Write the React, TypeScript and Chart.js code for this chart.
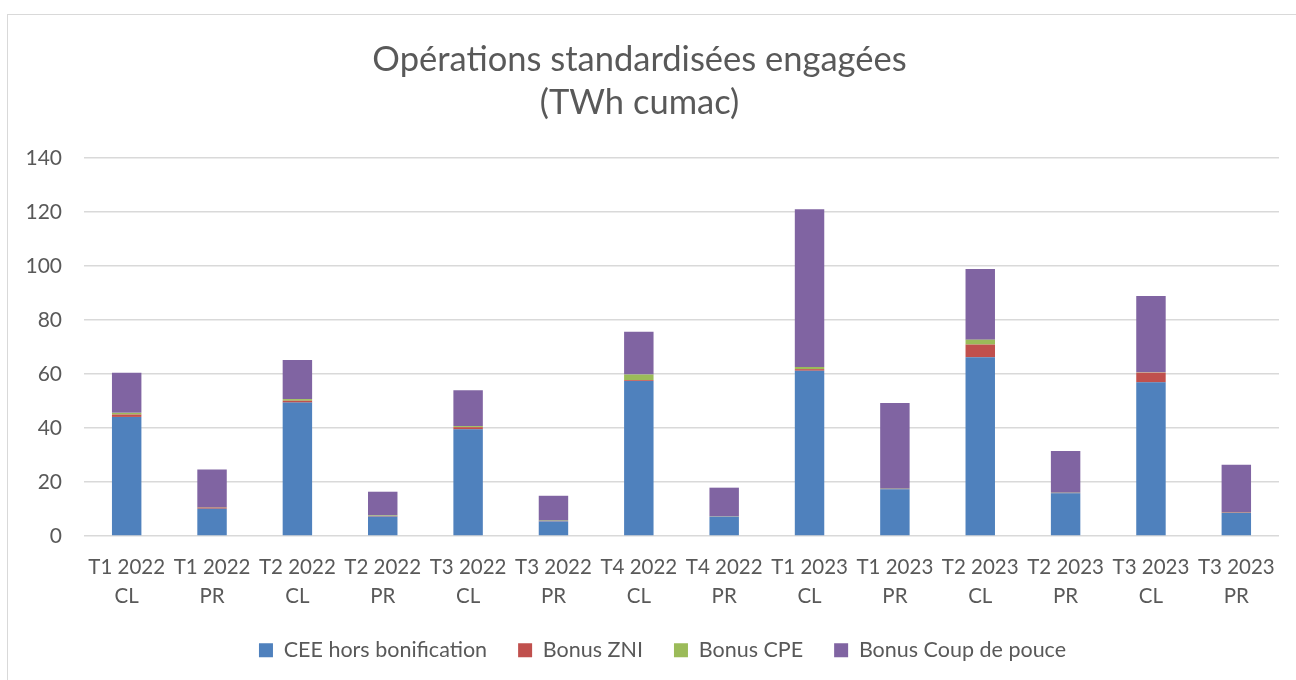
import React, { useEffect, useRef } from "react";
import { Chart, registerables } from "chart.js";

Chart.register(...registerables);

const categories: string[][] = [
  ["T1 2022", "CL"], ["T1 2022", "PR"], ["T2 2022", "CL"], ["T2 2022", "PR"],
  ["T3 2022", "CL"], ["T3 2022", "PR"], ["T4 2022", "CL"], ["T4 2022", "PR"],
  ["T1 2023", "CL"], ["T1 2023", "PR"], ["T2 2023", "CL"], ["T2 2023", "PR"],
  ["T3 2023", "CL"], ["T3 2023", "PR"],
];

const ceeHorsBonification = [44.1, 10.1, 49.4, 7.2, 39.5, 5.4, 57.4, 7.2, 61.2, 17.3, 66.2, 15.8, 56.9, 8.6];
const bonusZNI = [0.9, 0.4, 0.7, 0.2, 0.8, 0.15, 0.3, 0.1, 0.6, 0.1, 4.7, 0.1, 3.6, 0.2];
const bonusCPE = [0.6, 0.1, 0.6, 0.2, 0.4, 0.15, 2.1, 0.1, 0.8, 0.1, 1.8, 0.1, 0.1, 0.1];
const bonusCoupDePouce = [14.9, 14.0, 14.5, 8.8, 13.3, 9.2, 15.8, 10.5, 58.4, 31.8, 26.2, 15.5, 28.3, 17.5];

const seriesNames = ["CEE hors bonification", "Bonus ZNI", "Bonus CPE", "Bonus Coup de pouce"];
const seriesColors = ["#4F81BD", "#C0504D", "#9BBB59", "#8064A2"];

const titleLines = ["Opérations standardisées engagées", "(TWh cumac)"];
const yMax = 140;
const yStep = 20;

const FONT = "Lato, 'Open Sans', sans-serif";
const TEXT = "#595959";

const legendShift = {
  id: "legendShift",
  afterLayout(chart: any) {
    const lg = chart.legend;
    if (lg) {
      lg.left += 46;
    }
  },
};

export default function App() {
  const ref = useRef<HTMLCanvasElement | null>(null);

  useEffect(() => {
    if (!ref.current) return;
    const values = [ceeHorsBonification, bonusZNI, bonusCPE, bonusCoupDePouce];
    const chart = new Chart(ref.current, {
      type: "bar",
      data: {
        labels: categories,
        datasets: values.map((v, i) => ({
          label: seriesNames[i],
          data: v,
          backgroundColor: seriesColors[i],
          borderWidth: 0,
          barPercentage: 0.345,
          categoryPercentage: 1,
        })),
      },
      plugins: [legendShift],
      options: {
        animation: false,
        responsive: false,
        maintainAspectRatio: false,
        layout: { padding: { left: 0, right: 17, top: 0, bottom: 9 } },
        plugins: {
          title: {
            display: true,
            text: titleLines,
            color: TEXT,
            font: { family: FONT, size: 34.5, weight: "normal", lineHeight: 1.246 },
            padding: { top: 38.5, bottom: 33.5 },
          },
          legend: {
            position: "bottom",
            labels: {
              color: TEXT,
              font: { family: FONT, size: 21.5 },
              boxWidth: 14,
              boxHeight: 14,
              padding: 31,
            },
          },
          tooltip: { enabled: false },
        },
        scales: {
          x: {
            stacked: true,
            grid: { display: false },
            border: { display: false },
            ticks: {
              color: TEXT,
              font: { family: FONT, size: 20.5, lineHeight: 1.42 },
              padding: 9,
              maxRotation: 0,
              autoSkip: false,
            },
            afterFit: (scale: any) => {
              scale.height = 72.5;
            },
          },
          y: {
            stacked: true,
            min: 0,
            max: yMax,
            grid: { color: "#d9d9d9", lineWidth: 1.5, drawTicks: false },
            border: { display: false },
            ticks: {
              stepSize: yStep,
              color: TEXT,
              font: { family: FONT, size: 21 },
              padding: 22,
            },
            afterFit: (scale: any) => {
              scale.width = 84;
            },
          },
        },
      },
    });
    return () => chart.destroy();
  }, []);

  return (
    <div style={{ position: "fixed", left: 0, top: 0, width: 1296, height: 680, background: "#fff", overflow: "hidden" }}>
      <div
        style={{
          position: "absolute",
          left: 7,
          top: 14,
          width: 1400,
          height: 800,
          border: "1px solid #d9d9d9",
          boxSizing: "border-box",
        }}
      />
      <canvas ref={ref} width={1296} height={680} style={{ position: "absolute", left: 0, top: 0 }} />
    </div>
  );
}
